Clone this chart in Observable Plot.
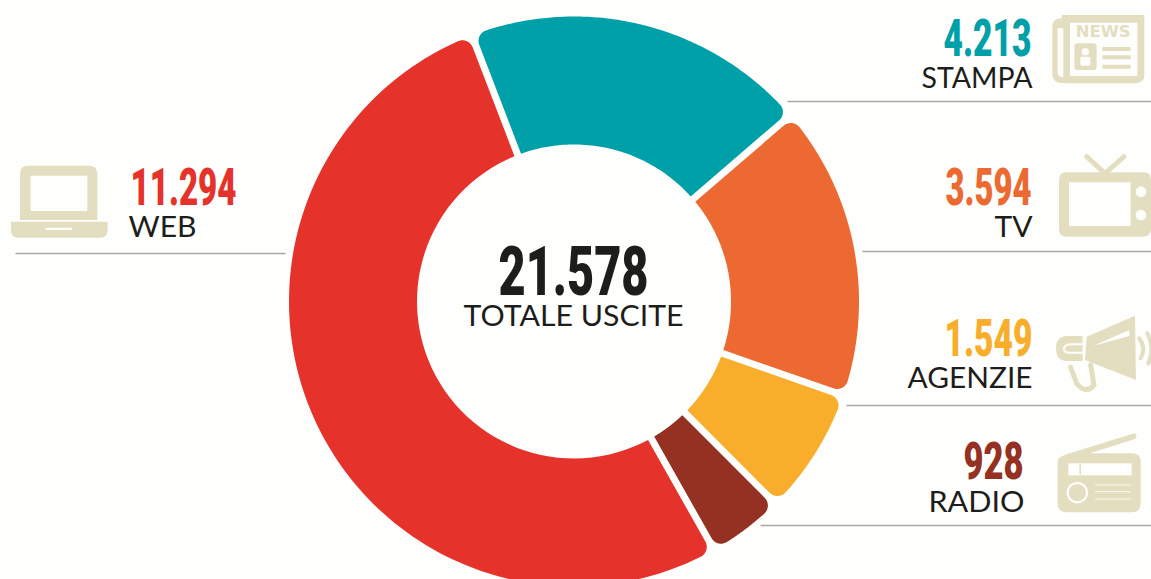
<!DOCTYPE html>
<html><head><meta charset="utf-8">
<script src="https://cdn.jsdelivr.net/npm/d3@7"></script>
<script src="https://cdn.jsdelivr.net/npm/@observablehq/plot@0.6"></script>
<style>html,body{margin:0;padding:0;background:#fefefc;overflow:hidden}svg{display:block}</style>
</head><body><div id="chart"></div>
<script>
const categories = ["STAMPA","TV","AGENZIE","RADIO","WEB"];
const values = [4213,3594,1549,928,11294];
const colors = ["#00a0a8","#ec6a32","#f8ae2a","#953122","#e5322a"];
const totalLabel = "TOTALE USCITE";
const total = 21578;

const W=1151,H=579,cx=573.5,cy=301,R=285,r=157,gap=7,corner=11,startDeg=-21;
const paper="#fefefc";
const fmt = d3.formatLocale({decimal:",",thousands:".",grouping:[3],currency:["","€"]}).format(",");

// build slice outlines: flat inner corners, rounded outer corners
function outline(a0,a1){
  const pts=[];
  const P=(a,ρ)=>[cx+ρ*Math.sin(a),cy-ρ*Math.cos(a)];
  const h=gap/2;
  const ia0=a0+Math.asin(h/r), ia1=a1-Math.asin(h/r);
  const ac0=a0+Math.asin((h+corner)/(R-corner)), ac1=a1-Math.asin((h+corner)/(R-corner));
  for(let i=0;i<=60;i++){pts.push(P(ia1+(ia0-ia1)*i/60,r));}
  for(let i=0;i<=10;i++){
    const c=P(ac0,R-corner);
    const t=ac0-Math.PI/2+(Math.PI/2)*i/10;
    pts.push([c[0]+corner*Math.sin(t),c[1]-corner*Math.cos(t)]);
  }
  for(let i=0;i<=120;i++){pts.push(P(ac0+(ac1-ac0)*i/120,R));}
  for(let i=0;i<=10;i++){
    const c=P(ac1,R-corner);
    const t=ac1+(Math.PI/2)*i/10;
    pts.push([c[0]+corner*Math.sin(t),c[1]-corner*Math.cos(t)]);
  }
  pts.push(pts[0]);
  return pts;
}
let acc=startDeg*Math.PI/180;
const sliceRows=[];
categories.forEach((c,i)=>{
  const a0=acc, a1=acc+values[i]/total*2*Math.PI; acc=a1;
  outline(a0,a1).forEach(p=>sliceRows.push({cat:c,px:p[0],py:p[1]}));
});

const numLayout={STAMPA:[1031,55,88],TV:[1031,204,86],AGENZIE:[1032,355,88],RADIO:[1023,478,60],WEB:[236,204,106]};
const labLayout={STAMPA:[1032,87,111],TV:[1032,236,38],AGENZIE:[1032,387,125],RADIO:[1024,511,96],WEB:[196,236,68]};
const ruleLayout={STAMPA:[787,1151,101],TV:[862,1151,251],AGENZIE:[846,1151,405],RADIO:[760,1151,525],WEB:[15,285,253]};

const beige="#e4dec0";
const icons=`
<g transform="translate(900,0) scale(.3333)">
 <path fill="${beige}" fill-rule="evenodd" d="M485,45H733V225Q733,250 705,250H490Q457,250 457,220V80Q457,55 485,55ZM510,68V228H712V68ZM473,85V215Q473,232 490,232V85Z"/>
 <text x="527" y="110" text-anchor="start" font-family="DejaVu Sans" font-weight="bold" font-size="46" fill="${beige}" textLength="165" lengthAdjust="spacingAndGlyphs">NEWS</text>
 <rect x="523" y="130" width="67" height="80" rx="10" fill="${beige}"/>
 <circle cx="556" cy="155" r="11" fill="${paper}"/><rect x="541" y="170" width="30" height="27" rx="5" fill="${paper}"/>
 <path stroke="${beige}" stroke-width="12" d="M607,147H692M607,172H692M607,200H692"/>
</g>
<g transform="translate(900,140) scale(.3333)">
 <path fill="${beige}" fill-rule="evenodd" d="M499,97H731Q753,97 753,119V268Q753,290 731,290H499Q477,290 477,268V119Q477,97 499,97ZM507,127V258H692V127Z"/>
 <circle cx="723" cy="155" r="16" fill="${paper}"/><circle cx="723" cy="225" r="16" fill="${paper}"/>
 <path fill="none" stroke="${beige}" stroke-width="15" stroke-linecap="round" d="M560,50L615,100L672,50"/>
</g>
<g transform="translate(890,300) scale(.3333)">
 <path fill="${beige}" fill-rule="evenodd" d="M590,110L735,47L738,240L585,180ZM610,137L718,108V90Z"/>
 <path fill="${beige}" d="M578,108H530Q498,110 498,145Q498,183 530,183H578Z"/>
 <path fill="none" stroke="${paper}" stroke-width="6" d="M578,133H540Q522,135 522,147Q522,158 540,158H578"/>
 <path fill="none" stroke="${beige}" stroke-width="15" stroke-linecap="round" d="M542,202L560,250Q590,285 612,255L602,195"/>
 <path fill="none" stroke="${beige}" stroke-width="12" stroke-linecap="round" d="M748,115Q770,145 752,175M772,100Q795,145 775,190"/>
</g>
<g transform="translate(890,425) scale(.3333)">
 <path fill="${beige}" d="M503,105Q510,95 530,88L733,25Q745,30 735,42L600,85H725Q752,85 752,110V235Q752,262 725,262H530Q503,262 503,235Z"/>
 <rect x="535" y="115" width="190" height="36" fill="${paper}"/>
 <rect x="568" y="118" width="5" height="30" rx="2" fill="${beige}"/>
 <circle cx="562" cy="203" r="29" fill="none" stroke="${paper}" stroke-width="6"/>
 <path stroke="${paper}" stroke-width="2.5" d="M615,180H722M615,200H722M615,222H722"/>
</g>
<g transform="translate(0,150) scale(.3333)">
 <path fill="${beige}" fill-rule="evenodd" d="M85,47H267Q292,47 292,72V210H60V72Q60,47 85,47ZM92,77V183H262V77Z"/>
 <path fill="${beige}" d="M33,215H323V240Q323,263 300,263H56Q33,263 33,240Z"/>
 <path fill="${paper}" d="M135,233L218,233L215,240L140,240Z"/>
</g>`;

const tx=[...categories.keys()];
const plot=Plot.plot({
  width:W,height:H,margin:0,
  x:{domain:[0,W],axis:null},
  y:{domain:[H,0],axis:null},
  color:{domain:categories,range:colors},
  style:{background:paper},
  marks:[
    Plot.line(sliceRows,{x:"px",y:"py",z:"cat",fill:"cat",stroke:"none"}),
    Plot.link(categories,{x1:c=>ruleLayout[c][0],x2:c=>ruleLayout[c][1],y1:c=>ruleLayout[c][2],y2:c=>ruleLayout[c][2],stroke:"#a8a8a8",strokeWidth:1.6}),
    Plot.text(tx,{x:i=>numLayout[categories[i]][0],y:i=>numLayout[categories[i]][1],text:i=>fmt(values[i]),fill:i=>categories[i],
      textAnchor:"end",lineAnchor:"bottom",fontFamily:"Roboto",fontWeight:900,fontSize:51}),
    Plot.text(categories,{x:c=>labLayout[c][0],y:c=>labLayout[c][1],text:c=>c,fill:"#1d1d1b",
      textAnchor:"end",lineAnchor:"bottom",fontFamily:"Lato",fontWeight:400,fontSize:29}),
    Plot.text([total],{x:()=>573,y:()=>294,text:d=>fmt(d),fill:"#1d1d1b",textAnchor:"middle",lineAnchor:"bottom",fontFamily:"Roboto",fontWeight:900,fontSize:68}),
    Plot.text([totalLabel],{x:()=>573,y:()=>325,text:d=>d,fill:"#1d1d1b",textAnchor:"middle",lineAnchor:"bottom",fontFamily:"Lato",fontWeight:400,fontSize:29})
  ]
});
// fit text widths to the reference
const widths={};
categories.forEach((c,i)=>{widths[fmt(values[i])]=numLayout[c][2];widths[c]=labLayout[c][2];});
widths[fmt(total)]=150;widths[totalLabel]=220;
d3.select(plot).selectAll("text").each(function(){
  const w=widths[this.textContent];
  if(w){this.setAttribute("textLength",w);this.setAttribute("lengthAdjust","spacingAndGlyphs");}
});
const g=document.createElementNS("http://www.w3.org/2000/svg","g");
g.innerHTML=icons;
plot.appendChild(g);
document.getElementById("chart").appendChild(plot);
</script></body></html>
